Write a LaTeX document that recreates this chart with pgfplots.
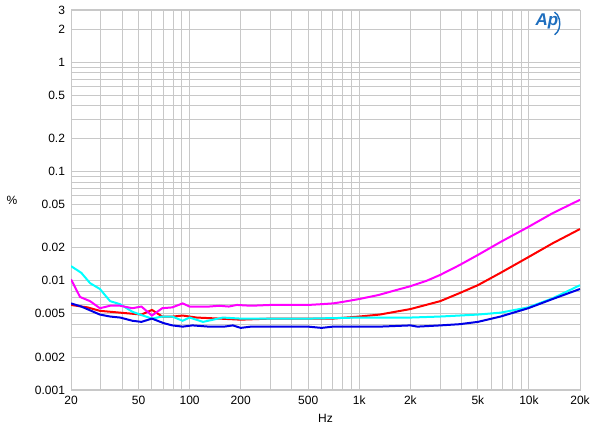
\documentclass[border=0pt]{standalone}
\usepackage{pgfplots}
\pgfplotsset{compat=1.18}
\usepackage{fontspec}
\setmainfont{Liberation Sans}
\usetikzlibrary{calc}
\definecolor{gridc}{RGB}{200,200,200}
\definecolor{apblue}{RGB}{30,110,190}
\definecolor{mag}{RGB}{255,0,255}
\definecolor{redc}{RGB}{255,0,0}
\definecolor{cyanc}{RGB}{0,255,255}
\definecolor{bluec}{RGB}{0,0,230}
\begin{document}
\begin{tikzpicture}
\begin{axis}[
  scale only axis, width=254.5pt, height=190pt,
  xmode=log, ymode=log,
  xmin=20, xmax=20000, ymin=0.001, ymax=3,
  xtick={20,50,100,200,500,1000,2000,5000,10000,20000},
  xticklabels={20,50,100,200,500,1k,2k,5k,10k,20k},
  ytick={0.001,0.002,0.005,0.01,0.02,0.05,0.1,0.2,0.5,1,2,3},
  yticklabels={0.001,0.002,0.005,0.01,0.02,0.05,0.1,0.2,0.5,1,2,3},
  minor xtick={30,40,60,70,80,90,300,400,600,700,800,900,3000,4000,6000,7000,8000,9000},
  minor ytick={0.003,0.004,0.006,0.007,0.008,0.009,0.03,0.04,0.06,0.07,0.08,0.09,0.3,0.4,0.6,0.7,0.8,0.9},
  grid=both,
  major grid style={draw=gridc, line width=0.5pt},
  minor grid style={draw=gridc, line width=0.5pt},
  axis line style={draw=gridc},
  major tick length=0pt, minor tick length=0pt,
  ticklabel style={font=\fontsize{6}{7}\selectfont, text=black},
  xticklabel style={yshift=0.5pt},
  yticklabel style={xshift=0.5pt},
  /pgf/number format/assume math mode=true,
  xlabel={Hz}, ylabel={\%},
  xlabel style={font=\fontsize{6}{7}\selectfont, yshift=2pt},
  ylabel style={font=\fontsize{6}{7}\selectfont, rotate=-90, xshift=-2pt},
  every axis plot/.append style={line width=1pt, no markers},
  clip=true,
]
\addplot[redc] coordinates {
(20,0.006)(25,0.0057)(29.6,0.0053)(39,0.0051)(52,0.0049)(60,0.0054)(69,0.0047)(80,0.0047)(91,0.0048)(110,0.0046)(150,0.0045)(200,0.0044)(300,0.0045)(500,0.0045)(700,0.0045)(1000,0.0047)(1320,0.0049)(2000,0.0055)(3000,0.0065)(3900,0.0077)(5000,0.0091)(6800,0.0118)(9900,0.0164)(13800,0.022)(20000,0.0297)};
\addplot[cyanc] coordinates {
(20,0.0136)(23,0.0118)(25.9,0.0095)(29.6,0.0084)(34,0.0065)(38.9,0.0061)(46,0.0052)(53,0.0048)(60,0.0045)(69,0.0047)(79,0.0047)(91,0.0043)(100,0.0046)(120,0.0042)(157,0.0046)(200,0.0045)(300,0.0045)(500,0.0045)(1000,0.0046)(2000,0.0046)(3000,0.0047)(5000,0.0049)(6800,0.0051)(9900,0.0057)(13800,0.0069)(20000,0.0091)};
\addplot[bluec] coordinates {
(20,0.0062)(23,0.0058)(29.6,0.0049)(34,0.0047)(39,0.0046)(46,0.0043)(52,0.0042)(60,0.0045)(70,0.0041)(79,0.0039)(91,0.0038)(104,0.0039)(130,0.0038)(160,0.0038)(180,0.0039)(200,0.0037)(230,0.0038)(300,0.0038)(500,0.0038)(600,0.0037)(700,0.0038)(1000,0.0038)(1320,0.0038)(2000,0.0039)(2200,0.0038)(3000,0.0039)(3900,0.004)(5000,0.0042)(6800,0.0047)(9900,0.0056)(13800,0.0068)(20000,0.0084)};
\addplot[mag] coordinates {
(20,0.0103)(22.6,0.0071)(25.9,0.0065)(29.6,0.0056)(34,0.0059)(39,0.0059)(46,0.0056)(52,0.0058)(60,0.0048)(69,0.0056)(79,0.0057)(91,0.0062)(100,0.0058)(115,0.0058)(130,0.0058)(150,0.0059)(170,0.0058)(190,0.006)(230,0.0059)(300,0.006)(400,0.006)(500,0.006)(600,0.0061)(700,0.0062)(800,0.0064)(1000,0.0068)(1300,0.0074)(1600,0.0081)(2000,0.0089)(2500,0.01)(3000,0.0113)(3900,0.0139)(5000,0.0172)(6800,0.0226)(9900,0.031)(13800,0.0415)(20000,0.055)};
\node[text=apblue, font=\fontsize{8.5}{8.5}\selectfont\bfseries\itshape] at (rel axis cs:0.935,0.97) {Ap};
\draw[apblue, line width=0.7pt] (rel axis cs:0.95,0.935) arc[start angle=-70, end angle=70, x radius=4pt, y radius=6pt];
\end{axis}
\pgfresetboundingbox
\path[use as bounding box] ($(current axis.south west)+(-35.5pt,-23.5pt)$) rectangle ($(current axis.north east)+(10pt,5pt)$);
\end{tikzpicture}
\end{document}
